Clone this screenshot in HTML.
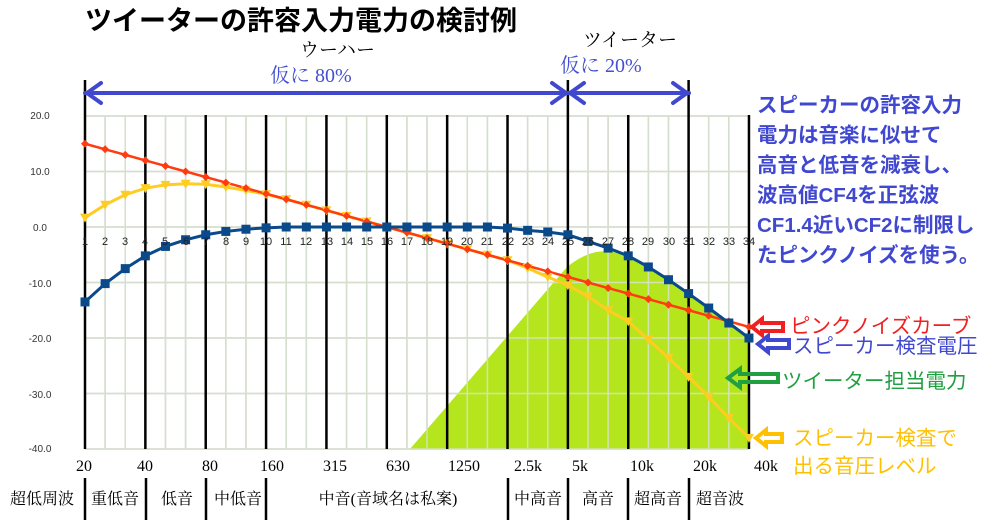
<!DOCTYPE html>
<html><head><meta charset="utf-8"><style>
body{margin:0;background:#fff;width:999px;height:520px;overflow:hidden}
svg{display:block}
.jp{font-family:"Liberation Sans","Noto Sans CJK JP",sans-serif}
.sr{font-family:"Liberation Serif","Noto Serif CJK SC",serif}
</style></head><body>
<svg id="s" width="999" height="520" xmlns="http://www.w3.org/2000/svg">
<g id="grid"></g>
<path id="green" fill="#b5e61d" d=""/>
<g id="grid2"></g>
<g id="black"></g>
<g id="series"></g>
<g font-size="10" fill="#333" class="jp" text-anchor="middle">
<text x="40" y="119">20.0</text><text x="40" y="175">10.0</text><text x="40" y="231">0.0</text>
<text x="40" y="287">-10.0</text><text x="40" y="342">-20.0</text><text x="40" y="398">-30.0</text><text x="40" y="452">-40.0</text>
</g>
<g font-size="11" fill="#222" class="jp" text-anchor="middle">
<text x="85" y="245">1</text><text x="105" y="245">2</text><text x="125" y="245">3</text><text x="145" y="245">4</text><text x="165" y="245">5</text><text x="186" y="245">6</text><text x="206" y="245">7</text><text x="226" y="245">8</text><text x="246" y="245">9</text><text x="266" y="245">10</text><text x="286" y="245">11</text><text x="306" y="245">12</text><text x="327" y="245">13</text><text x="347" y="245">14</text><text x="367" y="245">15</text><text x="387" y="245">16</text><text x="407" y="245">17</text><text x="427" y="245">18</text><text x="447" y="245">19</text><text x="467" y="245">20</text><text x="487" y="245">21</text><text x="508" y="245">22</text><text x="528" y="245">23</text><text x="548" y="245">24</text><text x="568" y="245">25</text><text x="588" y="245">26</text><text x="608" y="245">27</text><text x="628" y="245">28</text><text x="648" y="245">29</text><text x="669" y="245">30</text><text x="689" y="245">31</text><text x="709" y="245">32</text><text x="729" y="245">33</text><text x="749" y="245">34</text>
</g>
<text x="85" y="30" font-size="27" font-weight="bold" class="jp" fill="#000">ツイーターの許容入力電力の検討例</text>
<text x="300" y="56" font-size="19" class="sr" fill="#000">ウーハー</text>
<text x="270" y="82" font-size="20" class="sr" fill="#4450d0">仮に 80%</text>
<text x="583" y="46" font-size="19" class="sr" fill="#000">ツイーター</text>
<text x="560" y="72" font-size="20" class="sr" fill="#4450d0">仮に 20%</text>
<g stroke="#4048d0" stroke-width="4" fill="none" stroke-linecap="round">
<line x1="85" y1="93" x2="689" y2="93"/>
<polyline points="101,83 87,93 101,103"/>
<polyline points="552,83 566,93 552,103"/>
<polyline points="584,83 570,93 584,103"/>
<polyline points="673,83 687,93 673,103"/>
</g>
<g font-size="20.5" font-weight="bold" class="jp" fill="#4048d0">
<text x="757" y="112">スピーカーの許容入力</text>
<text x="757" y="142">電力は音楽に似せて</text>
<text x="757" y="172">高音と低音を減衰し、</text>
<text x="757" y="202">波高値CF4を正弦波</text>
<text x="757" y="232">CF1.4近いCF2に制限し</text>
<text x="757" y="262">たピンクノイズを使う。</text>
</g>
<g fill="none" stroke-width="4">
<path d="M752,327 L762,319 L762,323 L783,323 L783,331 L762,331 L762,335 Z" stroke="#f02020"/>
<path d="M758,344 L768,336 L768,340 L789,340 L789,348 L768,348 L768,352 Z" stroke="#4048d0"/>
<path d="M728,378 L740,369 L740,374 L778,374 L778,382 L740,382 L740,387 Z" stroke="#20a040"/>
<path d="M756,438 L766,430 L766,434 L782,434 L782,442 L766,442 L766,446 Z" stroke="#ffc000"/>
</g>
<g font-size="20.5" class="jp">
<text x="790" y="333" fill="#f02020">ピンクノイズカーブ</text>
<text x="793" y="353" fill="#4048d0">スピーカー検査電圧</text>
<text x="782" y="388" fill="#20a040">ツイーター担当電力</text>
<text x="793" y="445" fill="#ffc000">スピーカー検査で</text>
<text x="793" y="473" fill="#ffc000">出る音圧レベル</text>
</g>
<g font-size="16" class="sr" fill="#000" text-anchor="middle">
<text x="84" y="471">20</text><text x="145" y="471">40</text><text x="210" y="471">80</text><text x="272" y="471">160</text><text x="335" y="471">315</text><text x="398" y="471">630</text><text x="464" y="471">1250</text><text x="528" y="471">2.5k</text><text x="580" y="471">5k</text><text x="642" y="471">10k</text><text x="705" y="471">20k</text><text x="766" y="471">40k</text>
</g>
<g font-size="16" class="sr" fill="#000" text-anchor="middle">
<text x="42" y="504">超低周波</text><text x="115" y="504">重低音</text><text x="177" y="504">低音</text><text x="238" y="504">中低音</text><text x="388" y="504">中音(音域名は私案)</text><text x="538" y="504">中高音</text><text x="598" y="504">高音</text><text x="658" y="504">超高音</text><text x="720" y="504">超音波</text>
</g>
<g stroke="#000" stroke-width="2.5">
<line x1="85" y1="478" x2="85" y2="520"/><line x1="146" y1="478" x2="146" y2="520"/><line x1="206" y1="478" x2="206" y2="520"/><line x1="266" y1="478" x2="266" y2="520"/><line x1="508" y1="478" x2="508" y2="520"/><line x1="568" y1="478" x2="568" y2="520"/><line x1="628" y1="478" x2="628" y2="520"/><line x1="689" y1="478" x2="689" y2="520"/>
</g>
</svg>
<script>
var NS="http://www.w3.org/2000/svg";
function X(i){return 85+(i-1)*20.12}
function Y(v){return 227-v*5.55}
function el(p,t,a){var e=document.createElementNS(NS,t);for(var k in a)e.setAttribute(k,a[k]);document.getElementById(p).appendChild(e);return e}
var g=["grid","grid2"];
g.forEach(function(id,j){
 var c=j?"rgba(215,225,205,0.85)":"#d0d0d0";
 for(var i=1;i<=34;i++)el(id,"line",{x1:X(i),y1:115,x2:X(i),y2:449,stroke:c,"stroke-width":1.5});
 for(var v=20;v>=-40;v-=10)el(id,"line",{x1:X(1),y1:Y(v),x2:749,y2:Y(v),stroke:c,"stroke-width":1.5});
});
for(var i=1;i<=34;i+=3){el("black","line",{x1:X(i),y1:(i==1||i==25||i==31)?80:115,x2:X(i),y2:449,stroke:"#000","stroke-width":2.5});}
var red=[],blue=[-13.5,-10.2,-7.5,-5.2,-3.5,-2.3,-1.4,-0.8,-0.4,-0.15,0,0,0,0,0,0,0,0,0,0,0,-0.2,-0.6,-0.9,-1.4,-2.6,-3.8,-5.2,-7.2,-9.5,-12,-14.6,-17.3,-20];
var yel=[1.7,4,5.8,7,7.6,7.8,7.7,7.2,6.6,5.9,5,4,3,2,1,0,-1,-2,-3,-4,-5,-6,-7.4,-9,-10.5,-12.5,-15,-17,-20.3,-23.6,-27,-30.6,-34.4,-38];
for(var i=1;i<=34;i++)red.push(16-i);
function pts(a){return a.map(function(v,i){return X(i+1)+","+Y(v)}).join(" ")}
var d="M410,449 L567,267 Q590,248 613,252 L"+X(28)+","+Y(-5.2);
for(var i=29;i<=34;i++)d+=" L"+X(i)+","+Y(blue[i-1]);
d+=" L749,449 Z";document.getElementById("green").setAttribute("d",d);
el("series","polyline",{points:pts(yel),fill:"none",stroke:"#ffcc22","stroke-width":3});
el("series","polyline",{points:pts(red),fill:"none",stroke:"#ff3b10","stroke-width":2.5});
el("series","polyline",{points:pts(blue),fill:"none",stroke:"#0a4a8a","stroke-width":3});
for(var i=0;i<34;i++){
 var x=X(i+1);
 var y=Y(yel[i]);el("series","polygon",{points:(x-5)+","+(y-4)+" "+(x+5)+","+(y-4)+" "+x+","+(y+5),fill:"#ffcc22"});
 y=Y(red[i]);el("series","polygon",{points:x+","+(y-4)+" "+(x+4)+","+y+" "+x+","+(y+4)+" "+(x-4)+","+y,fill:"#ff3b10"});
 y=Y(blue[i]);el("series","rect",{x:x-4.5,y:y-4.5,width:9,height:9,fill:"#0a4a8a"});
}
</script>
</body></html>
